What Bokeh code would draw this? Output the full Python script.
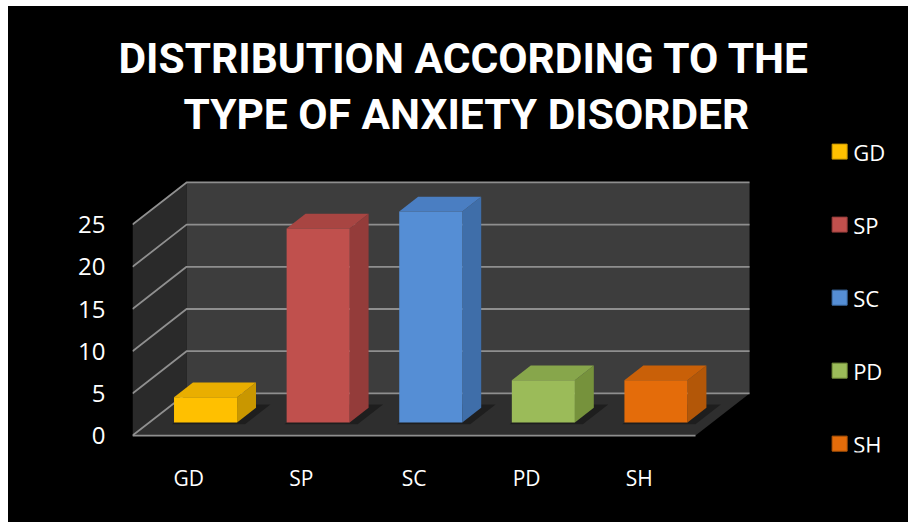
from bokeh.plotting import figure
from bokeh.models import FixedTicker, Title
from bokeh.core.properties import value
from bokeh.embed import file_html
from bokeh.resources import INLINE

# ---- data -------------------------------------------------------------
categories = ["GD", "SP", "SC", "PD", "SH"]
counts = [3, 23, 25, 5, 5]
y_ticks = [0, 5, 10, 15, 20, 25]
title_lines = ["DISTRIBUTION ACCORDING TO THE", "TYPE OF ANXIETY DISORDER"]

# face colours of each bar: front, right side, top
front_colors = ["#FFC000", "#C0504D", "#558ED5", "#9BBB59", "#E46C0A"]
side_colors = ["#C99700", "#943C3A", "#3F6EA9", "#76923C", "#B35708"]
top_colors = ["#E9AE00", "#A84542", "#4A7EC2", "#87A64B", "#C96008"]

# ---- 3-D box geometry (oblique projection, data units) ----------------
DEPTH_X = 0.48        # horizontal shift of the back plane, in category units
DEPTH_Y = 5.0         # vertical shift of the back plane, in value units
WALL_TOP = max(y_ticks)
BAR_W = 0.56
BAR_D0, BAR_D1 = 0.31, 0.66   # front / back depth of the bars (0 = front, 1 = back)

PX_PER_CAT = 112.6
PX_PER_VAL = 8.44
LEFT, RIGHT, TOP, BOTTOM = 124, 3, 135, 70
W, H = 900, 516
x_end = (W - LEFT - RIGHT) / PX_PER_CAT
y_start = -2.0
y_end = y_start + (H - TOP - BOTTOM) / PX_PER_VAL


def proj(x, v, d):
    return x + DEPTH_X * d, v + DEPTH_Y * d


def poly(points):
    xs, ys = zip(*points)
    return list(xs), list(ys)


n = len(categories)

p = figure(width=W, height=H, x_range=(0, x_end), y_range=(y_start, y_end),
           output_backend="svg", toolbar_location=None, title=None,
           min_border_left=LEFT, min_border_right=RIGHT,
           min_border_top=TOP, min_border_bottom=BOTTOM,
           background_fill_color="black", border_fill_color="black",
           margin=(6, 0, 0, 8))
p.styles = {"background-color": "black"}
p.outline_line_color = None
p.xgrid.visible = False
p.ygrid.visible = False

# walls and floor
side_wall = poly([proj(0, 0, 0), proj(0, 0, 1), proj(0, WALL_TOP, 1), proj(0, WALL_TOP, 0)])
back_wall = poly([proj(0, 0, 1), proj(n, 0, 1), proj(n, WALL_TOP, 1), proj(0, WALL_TOP, 1)])
floor = poly([proj(0, 0, 0), proj(n, 0, 0), proj(n, 0, 1), proj(0, 0, 1)])
p.patches([side_wall[0], back_wall[0], floor[0]], [side_wall[1], back_wall[1], floor[1]],
          fill_color=["#2a2a2a", "#3d3d3d", "#2e2e2e"], line_color=None)

# gridlines: diagonal on the side wall, horizontal on the back wall
gx, gy = [], []
for v in y_ticks:
    xs, ys = poly([proj(0, v, 0), proj(0, v, 1), proj(n, v, 1)])
    gx.append(xs)
    gy.append(ys)
fx, fy = poly([proj(0, 0, 0), proj(n, 0, 0)])
gx.append(fx)
gy.append(fy)
p.multi_line(gx, gy, line_color="#8f8f8f", line_width=1.8)

# soft shadows of the bars on the floor
sh_x, sh_y = [], []
for i in range(n):
    x0 = i + 0.5 - BAR_W / 2
    x1 = i + 0.5 + BAR_W / 2 + 0.09
    xs, ys = poly([proj(x0, 0, BAR_D0 - 0.04), proj(x1, 0, BAR_D0 - 0.04),
                   proj(x1, 0, BAR_D1 + 0.08), proj(x0, 0, BAR_D1 + 0.08)])
    sh_x.append(xs)
    sh_y.append(ys)
p.patches(sh_x, sh_y, fill_color="black", fill_alpha=0.35, line_color=None)

# bars: front, right side and top faces
front_x, front_y, side_x, side_y, top_x, top_y = [], [], [], [], [], []
for i, h in enumerate(counts):
    x0 = i + 0.5 - BAR_W / 2
    x1 = i + 0.5 + BAR_W / 2
    xs, ys = poly([proj(x0, 0, BAR_D0), proj(x1, 0, BAR_D0), proj(x1, h, BAR_D0), proj(x0, h, BAR_D0)])
    front_x.append(xs); front_y.append(ys)
    xs, ys = poly([proj(x1, 0, BAR_D0), proj(x1, 0, BAR_D1), proj(x1, h, BAR_D1), proj(x1, h, BAR_D0)])
    side_x.append(xs); side_y.append(ys)
    xs, ys = poly([proj(x0, h, BAR_D0), proj(x1, h, BAR_D0), proj(x1, h, BAR_D1), proj(x0, h, BAR_D1)])
    top_x.append(xs); top_y.append(ys)
p.patches(side_x, side_y, fill_color=side_colors, line_color=None)
p.patches(top_x, top_y, fill_color=top_colors, line_color=None)
p.patches(front_x, front_y, fill_color=front_colors, line_color=None)

# legend column on the right
LEG_X = 6.28
LEG_TEXT_X = 6.40
LEG_TOP = 33.65
LEG_STEP = 8.65
leg_y = [LEG_TOP - k * LEG_STEP for k in range(n)]
p.scatter([LEG_X] * n, leg_y, marker="square", size=15, fill_color=front_colors,
          line_color=side_colors, line_width=1)
p.text([LEG_TEXT_X] * n, leg_y, text=categories, text_color="white",
       text_font=value("Open Sans"), text_font_size="22px",
       text_align="left", text_baseline="middle")

# axes
p.yaxis.ticker = FixedTicker(ticks=y_ticks)
p.yaxis.axis_line_color = None
p.yaxis.major_tick_line_color = None
p.yaxis.minor_tick_line_color = None
p.yaxis.major_label_standoff = 21
p.yaxis.major_label_text_color = "white"
p.yaxis.major_label_text_font = "Open Sans"
p.yaxis.major_label_text_font_size = "24px"

cat_pos = [i + 0.5 for i in range(n)]
p.xaxis.ticker = FixedTicker(ticks=cat_pos)
p.xaxis.major_label_overrides = {pos: c for pos, c in zip(cat_pos, categories)}
p.xaxis.axis_line_color = None
p.xaxis.major_tick_line_color = None
p.xaxis.minor_tick_line_color = None
p.xaxis.major_label_standoff = 5
p.xaxis.major_label_text_color = "white"
p.xaxis.major_label_text_font = "Open Sans"
p.xaxis.major_label_text_font_size = "21px"

# two-line title (first added sits closest to the plot)
for line, off, stand in [(title_lines[1], 51, 6), (title_lines[0], -14, 4)]:
    p.add_layout(Title(text=line, align="left", offset=off, standoff=stand,
                       text_color="white", text_font="Roboto",
                       text_font_style="bold", text_font_size="42.5px"), "above")

open("out.html", "w").write(file_html(p, INLINE))
